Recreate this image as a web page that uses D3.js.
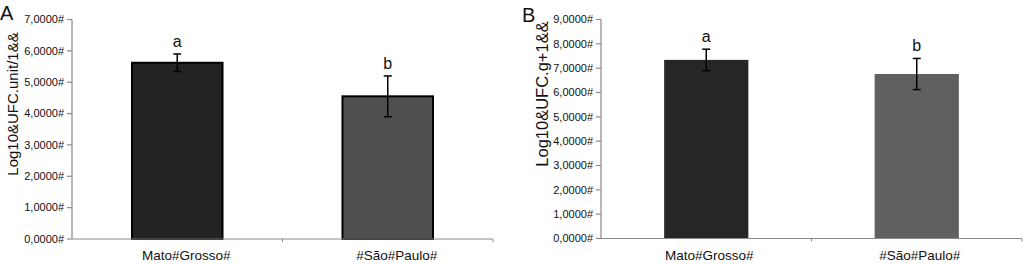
<!DOCTYPE html>
<html>
<head>
<meta charset="utf-8">
<script src="https://cdn.jsdelivr.net/npm/d3@7"></script>
<style>
  body { margin: 0; background: #fff; }
  svg text { font-family: "Liberation Sans", Arial, sans-serif; fill: #111; }
</style>
</head>
<body>
<div id="chart"></div>
<script>
// data
const categories = ["Mato#Grosso#", "#São#Paulo#"];
const meansA     = [5.62, 4.55];
const errorsA    = [0.28, 0.65];
const lettersA   = ["a", "b"];
const ticksA     = [0, 1, 2, 3, 4, 5, 6, 7];
const meansB     = [7.34, 6.76];
const errorsB    = [0.44, 0.64];
const lettersB   = ["a", "b"];
const ticksB     = [0, 1, 2, 3, 4, 5, 6, 7, 8, 9];

const fmt = (d) => d3.format(".4f")(d).replace(".", ",") + "#";

const svg = d3.select("#chart").append("svg")
	.attr("width", 1024)
	.attr("height", 264);

function drawPanel(p) {
	let g = svg.append("g");

	let x = d3.scaleBand().domain(categories).range([p.left, p.right])
		.paddingInner(p.pad).paddingOuter(p.pad / 2);
	let y = d3.scaleLinear().domain([0, d3.max(p.ticks)]).range([p.bottom, p.top]);

	// y axis
	g.append("line")
		.attr("x1", p.left).attr("x2", p.left)
		.attr("y1", y(0)).attr("y2", y(d3.max(p.ticks)))
		.attr("stroke", "#8a8a8a").attr("stroke-width", 1.2);
	g.selectAll(".ytick").data(p.ticks).enter()
		.append("line")
			.attr("x1", p.left - 5).attr("x2", p.left)
			.attr("y1", (d) => y(d)).attr("y2", (d) => y(d))
			.attr("stroke", "#8a8a8a").attr("stroke-width", 1.2);
	g.selectAll(".ylab").data(p.ticks).enter()
		.append("text")
			.attr("x", p.left - 8)
			.attr("y", (d) => y(d))
			.attr("dy", "0.35em")
			.attr("text-anchor", "end")
			.attr("font-size", 11)
			.text(fmt);

	// bars
	g.selectAll("rect").data(p.means).enter()
		.append("rect")
			.attr("x", (d, i) => x(categories[i]))
			.attr("y", (d) => y(d))
			.attr("width", x.bandwidth())
			.attr("height", (d) => y(0) - y(d))
			.attr("fill", (d, i) => p.colors[i])
			.attr("stroke", p.edge ? "#000" : "none")
			.attr("stroke-width", p.edge ? 2 : 0);

	// x axis, ticks at category boundaries
	let step = x.step();
	g.append("line")
		.attr("x1", p.left).attr("x2", p.right)
		.attr("y1", y(0)).attr("y2", y(0))
		.attr("stroke", "#8a8a8a").attr("stroke-width", 1.2);
	g.selectAll(".xtick").data(categories).enter()
		.append("line")
			.attr("x1", (d) => x(d) - x.paddingOuter() * step + step)
			.attr("x2", (d) => x(d) - x.paddingOuter() * step + step)
			.attr("y1", y(0)).attr("y2", y(0) + 3)
			.attr("stroke", "#8a8a8a").attr("stroke-width", 1);
	g.selectAll(".xlab").data(categories).enter()
		.append("text")
			.attr("x", (d) => x(d) + x.bandwidth() / 2 + p.labelShift)
			.attr("y", 260)
			.attr("text-anchor", "middle")
			.attr("font-size", 13.5)
			.text((d) => d);

	// error bars
	let cx = (i) => x(categories[i]) + x.bandwidth() / 2;
	p.means.forEach((m, i) => {
		let e = p.errors[i];
		g.append("line")
			.attr("x1", cx(i)).attr("x2", cx(i))
			.attr("y1", y(m - e)).attr("y2", y(m + e))
			.attr("stroke", "#000").attr("stroke-width", 1.5);
		[m - e, m + e].forEach((v) => {
			g.append("line")
				.attr("x1", cx(i) - 4).attr("x2", cx(i) + 4)
				.attr("y1", y(v)).attr("y2", y(v))
				.attr("stroke", "#000").attr("stroke-width", 1.5);
		});
		g.append("text")
			.attr("x", cx(i))
			.attr("y", y(m + e) - 7)
			.attr("text-anchor", "middle")
			.attr("font-size", 16)
			.text(p.letters[i]);
	});

	// y title and panel letter
	g.append("text")
		.attr("transform", "translate(" + p.titleX + "," + p.titleY + ") rotate(-90)")
		.attr("text-anchor", "middle")
		.attr("dy", "0.35em")
		.attr("font-size", p.titleSize)
		.text(p.title);
	g.append("text")
		.attr("x", p.tag[0]).attr("y", p.tag[1])
		.attr("font-size", 20)
		.text(p.tagText);
}

drawPanel({
	left: 72, right: 493, top: 19.5, bottom: 239, pad: 0.57,
	ticks: ticksA, means: meansA, errors: errorsA, letters: lettersA,
	colors: ["#232323", "#4f4f4f"], edge: true, labelShift: 9,
	title: "Log10&UFC.unit/1&&", titleX: 13, titleY: 104, titleSize: 15,
	tag: [0, 20], tagText: "A"
});

drawPanel({
	left: 601, right: 1022, top: 19.5, bottom: 238.5, pad: 0.6,
	ticks: ticksB, means: meansB, errors: errorsB, letters: lettersB,
	colors: ["#262626", "#606060"], edge: false, labelShift: 3,
	title: "Log10&UFC.g+1&&", titleX: 542, titleY: 94, titleSize: 16.5,
	tag: [522, 22], tagText: "B"
});
</script>
</body>
</html>
